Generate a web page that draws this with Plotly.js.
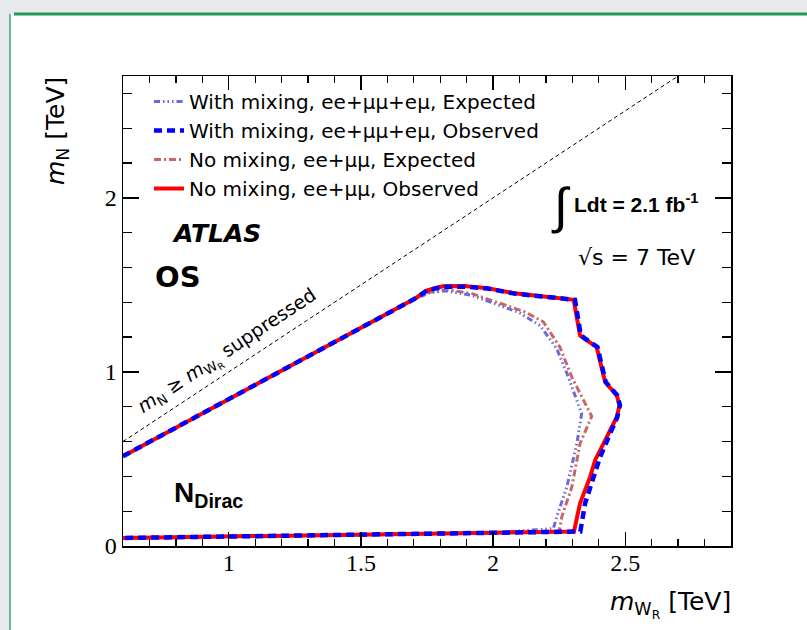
<!DOCTYPE html>
<html>
<head>
<meta charset="utf-8">
<script src="https://cdn.plot.ly/plotly-3.0.1.min.js"></script>
<style>html,body{margin:0;padding:0;background:#e8e9ec;}#chart{width:807px;height:630px;}</style>
</head>
<body>
<div id="chart"></div>
<script>
// ---- data (TeV) ----
const xNoMixObs = [0.6, 1.0, 1.2, 1.4, 1.6, 1.7, 1.75, 1.81, 1.89, 1.98, 2.08, 2.2, 2.305, 2.329, 2.392, 2.424, 2.468, 2.478, 2.468, 2.386, 2.367, 2.329, 2.306, 2.0, 1.5, 1.0, 0.6];
const yNoMixObs = [0.516, 0.844, 1.007, 1.171, 1.335, 1.417, 1.468, 1.492, 1.493, 1.481, 1.452, 1.43, 1.414, 1.209, 1.142, 0.942, 0.865, 0.808, 0.741, 0.493, 0.397, 0.245, 0.083, 0.076, 0.066, 0.055, 0.046];

const xMixObs = [0.6, 1.0, 1.2, 1.4, 1.6, 1.7, 1.75, 1.81, 1.89, 1.98, 2.08, 2.2, 2.31, 2.332, 2.395, 2.426, 2.47, 2.48, 2.47, 2.405, 2.386, 2.348, 2.33, 2.0, 1.5, 1.0, 0.6];
const yMixObs = [0.516, 0.844, 1.007, 1.171, 1.335, 1.417, 1.468, 1.49, 1.49, 1.479, 1.45, 1.428, 1.414, 1.209, 1.142, 0.942, 0.865, 0.808, 0.741, 0.512, 0.42, 0.245, 0.083, 0.076, 0.066, 0.055, 0.046];

const xNoMixExp = [0.6, 1.0, 1.2, 1.4, 1.6, 1.7, 1.76, 1.83, 1.92, 2.03, 2.12, 2.19, 2.253, 2.298, 2.373, 2.329, 2.298, 2.26, 2.25, 2.0, 1.5, 1.0, 0.6];
const yNoMixExp = [0.516, 0.844, 1.007, 1.171, 1.335, 1.417, 1.458, 1.472, 1.45, 1.393, 1.345, 1.288, 1.142, 0.97, 0.745, 0.589, 0.34, 0.168, 0.085, 0.076, 0.066, 0.055, 0.046];

const xMixExp = [0.6, 1.0, 1.2, 1.4, 1.6, 1.7, 1.76, 1.82, 1.92, 2.03, 2.1, 2.178, 2.241, 2.285, 2.335, 2.317, 2.279, 2.241, 2.228, 2.0, 1.5, 1.0, 0.6];
const yMixExp = [0.516, 0.844, 1.007, 1.171, 1.335, 1.417, 1.455, 1.466, 1.44, 1.38, 1.34, 1.266, 1.133, 0.97, 0.76, 0.589, 0.34, 0.168, 0.1, 0.076, 0.066, 0.055, 0.046];

const xDiag = [0.6, 2.7];
const yDiag = [0.6, 2.7];

const legendNames = [
  'With mixing, ee+μμ+eμ, Expected',
  'With mixing, ee+μμ+eμ, Observed',
  'No mixing, ee+μμ, Expected',
  'No mixing, ee+μμ, Observed'
];

const xTickVals = [1, 1.5, 2, 2.5];
const xTickText = ['1', '1.5', '2', '2.5'];
const yTickVals = [0, 1, 2];
const yTickText = ['0', '1', '2'];

// ---- layout helpers (pixel -> paper) ----
const ML = 123, MT = 76, MR = 76, MB = 84, W = 807, H = 630;
const PW = W - ML - MR, PH = H - MT - MB;
const px = v => (v - ML) / PW;
const py = v => (H - MB - v) / PH;

const SANS = 'Liberation Sans, Arial, sans-serif';
const WIDE = 'DejaVu Sans, sans-serif';
const SERIF = 'Liberation Serif, Times New Roman, serif';

const traces = [
  {x: xDiag, y: yDiag, mode: 'lines', showlegend: false, hoverinfo: 'skip',
   line: {color: '#000', width: 1, dash: '4px,3px'}},
  {x: xNoMixExp, y: yNoMixExp, mode: 'lines', name: legendNames[2], legendrank: 3,
   line: {color: '#cc6666', width: 3, dash: '7px,3px,2px,3px'}},
  {x: xMixExp, y: yMixExp, mode: 'lines', name: legendNames[0], legendrank: 1,
   line: {color: '#6b6bd6', width: 3, dash: '6px,3px,1.5px,3px,1.5px,3px,1.5px,3px'}},
  {x: xNoMixObs, y: yNoMixObs, mode: 'lines', name: legendNames[3], legendrank: 4,
   line: {color: '#ff0000', width: 4}},
  {x: xMixObs, y: yMixObs, mode: 'lines', name: legendNames[1], legendrank: 2,
   line: {color: '#0000ff', width: 4.5, dash: '8px,5px'}}
];

const axisCommon = {
  showgrid: false, zeroline: false, showline: true, linecolor: '#000', linewidth: 1.5,
  ticks: 'inside', tickcolor: '#000', tickwidth: 1.3, mirror: 'allticks',
  tickfont: {family: SERIF, size: 24, color: '#000'}, fixedrange: true
};

const layout = {
  width: W, height: H,
  margin: {l: ML, r: MR, t: MT, b: MB, pad: 0},
  paper_bgcolor: '#e8e9ec', plot_bgcolor: '#ffffff',
  showlegend: true,
  legend: {x: px(149), y: py(82), xanchor: 'left', yanchor: 'top', bgcolor: 'rgba(0,0,0,0)',
    font: {family: WIDE, size: 20, color: '#000'}, tracegroupgap: 0, itemwidth: 30},
  xaxis: Object.assign({}, axisCommon, {range: [0.6, 2.9], tickvals: xTickVals, ticktext: xTickText,
    ticklen: 14, ticklabelstandoff: -5,
    minor: {dtick: 0.1, tick0: 0, ticklen: 7, ticks: 'inside', tickcolor: '#000', tickwidth: 1.3}}),
  yaxis: Object.assign({}, axisCommon, {range: [0, 2.7], tickvals: yTickVals, ticktext: yTickText,
    ticklen: 16, minor: {dtick: 0.2, tick0: 0, ticklen: 9, ticks: 'inside', tickcolor: '#000', tickwidth: 1.3}}),
  shapes: [
    {type: 'rect', xref: 'paper', yref: 'paper', x0: px(10), x1: px(812), y0: py(640), y1: py(14),
     fillcolor: '#ffffff', line: {width: 0}, layer: 'below'},
    {type: 'line', xref: 'paper', yref: 'paper', x0: px(14), x1: px(812), y0: py(14), y1: py(14),
     line: {color: '#1f9a55', width: 3}, layer: 'below'},
    {type: 'line', xref: 'paper', yref: 'paper', x0: px(10), x1: px(10), y0: py(14), y1: py(640),
     line: {color: '#3fa86b', width: 1.5}, layer: 'below'}
  ],
  annotations: [
    {xref: 'paper', yref: 'paper', x: px(170), y: py(233), xanchor: 'left', yanchor: 'middle', showarrow: false,
     text: '<b><i>ATLAS</i></b>', font: {family: WIDE, size: 25, color: '#000'}},
    {xref: 'paper', yref: 'paper', x: px(153), y: py(277), xanchor: 'left', yanchor: 'middle', showarrow: false,
     text: '<b>OS</b>', font: {family: WIDE, size: 29, color: '#000'}},
    {xref: 'paper', yref: 'paper', x: px(172), y: py(494), xanchor: 'left', yanchor: 'middle', showarrow: false,
     text: '<b>N<sub>Dirac</sub></b>', font: {family: SANS, size: 28, color: '#000'}},
    {xref: 'paper', yref: 'paper', x: px(561), y: py(206), xanchor: 'center', yanchor: 'middle', showarrow: false,
     text: '∫', font: {family: SANS, size: 50, color: '#000'}},
    {xref: 'paper', yref: 'paper', x: px(572), y: py(203), xanchor: 'left', yanchor: 'middle', showarrow: false,
     text: '<b>Ldt = 2.1 fb<sup>-1</sup></b>', font: {family: SANS, size: 21, color: '#000'}},
    {xref: 'paper', yref: 'paper', x: px(576), y: py(257), xanchor: 'left', yanchor: 'middle', showarrow: false,
     text: '√s = 7 TeV', font: {family: WIDE, size: 22, color: '#000'}},
    {xref: 'paper', yref: 'paper', x: px(227), y: py(352), xanchor: 'center', yanchor: 'middle', showarrow: false,
     textangle: -33.5,
     text: '<i>m</i><sub>N</sub> ≥ <i>m</i><sub>W<sub>R</sub></sub> suppressed', font: {family: WIDE, size: 19, color: '#000'}},
    {xref: 'paper', yref: 'paper', x: 1.004, y: py(604), xanchor: 'right', yanchor: 'middle', showarrow: false,
     text: '<i>m</i><sub>W<sub>R</sub></sub> [TeV]', font: {family: WIDE, size: 25, color: '#000'}},
    {xref: 'paper', yref: 'paper', x: px(57), y: 1.002, xanchor: 'center', yanchor: 'top', showarrow: false,
     textangle: -90,
     text: '<i>m</i><sub>N</sub> [TeV]', font: {family: WIDE, size: 25, color: '#000'}}
  ]
};

Plotly.newPlot('chart', traces, layout, {staticPlot: true, displayModeBar: false});
</script>
</body>
</html>
